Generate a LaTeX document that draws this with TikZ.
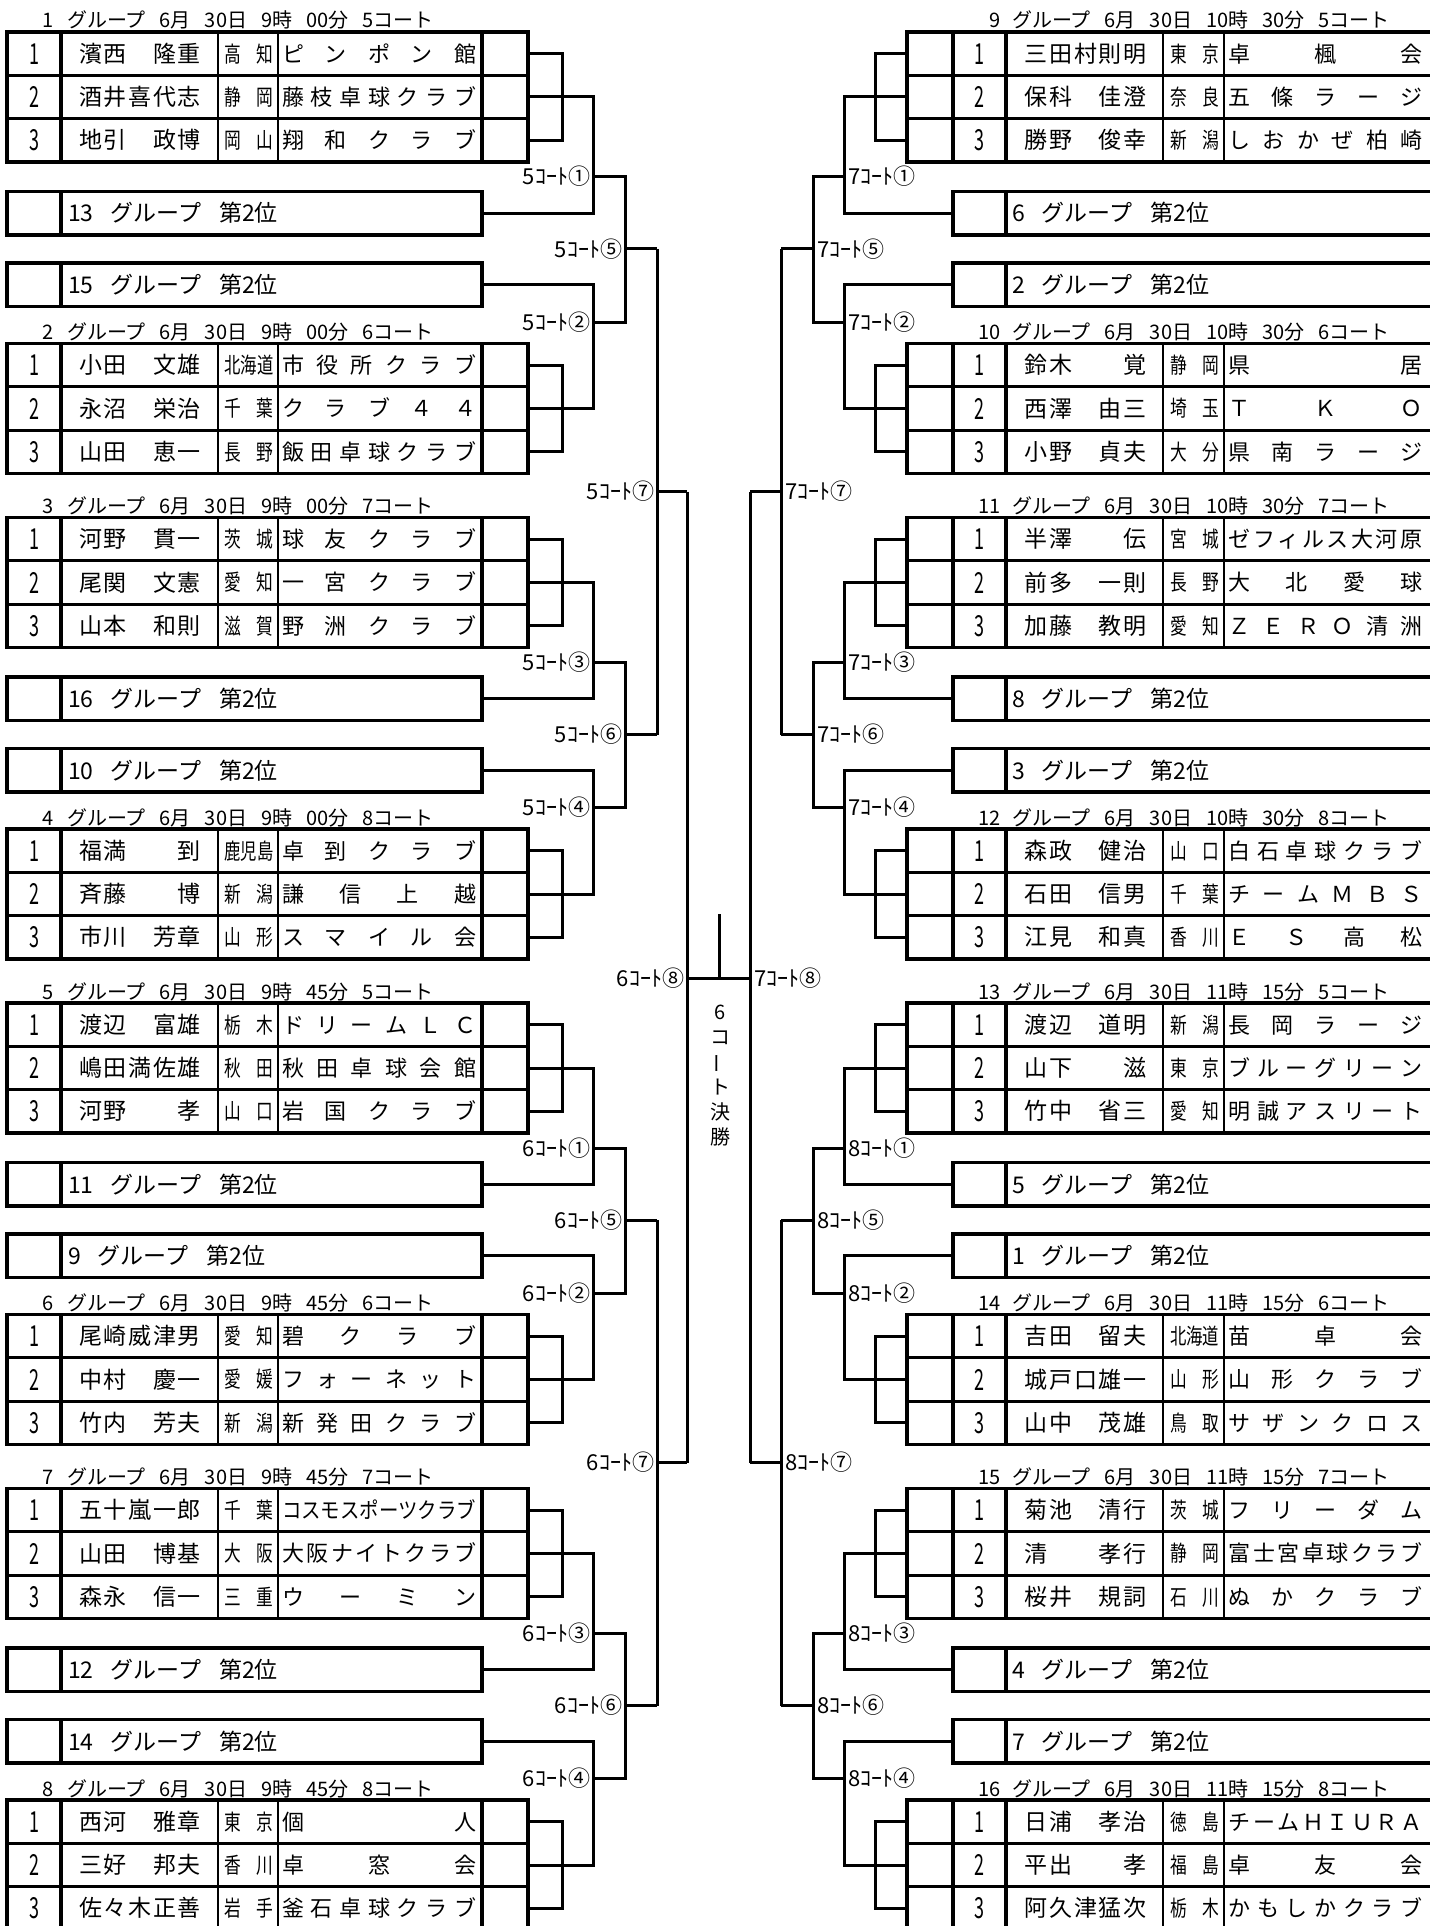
\documentclass[tikz,border=0pt]{standalone}
\usepackage{fontspec}
\usepackage{graphicx}
\newfontfamily\jp{Noto Sans CJK JP}
\newfontfamily\jpc[FakeStretch=0.62]{Noto Sans CJK JP}
\newfontfamily\jpp[FakeStretch=0.76]{Noto Sans CJK JP}
\newcommand\fz[1]{\fontsize{#1}{#1}\selectfont}
\makeatletter
\newsavebox\spr@box
\def\spr@loop#1{\ifx#1\relax\else\hfill#1\expandafter\spr@loop\fi}
\def\spr@first#1{#1\spr@loop}
\newcommand\spr[2]{\sbox\spr@box{\spr@first#2\relax}%
 \ifdim\wd\spr@box>#1\relax\resizebox{#1}{\height}{\usebox\spr@box}%
 \else\makebox[#1][s]{\spr@first#2\relax}\fi}
\makeatother
\newcommand\hd{\hspace{7pt}}
\tikzset{
 thk/.style={line width=1.6pt},
 thn/.style={line width=0.55pt},
 brk/.style={line width=1.5pt},
 tx/.style={inner sep=0pt,outer sep=0pt,anchor=base},
 numt/.style={tx,font=\jpc\fz{14.5pt}},
 namet/.style={tx,font=\jp\fz{11.5pt}},
 preft/.style={tx,font=\jpp\fz{11pt}},
 clubt/.style={tx,font=\jp\fz{11pt}},
 headt/.style={tx,font=\jp\fz{10pt}},
 labt/.style={tx,font=\jp\fz{11pt}},
 boxt/.style={tx,anchor=base west,font=\jp\fz{11.5pt}},
 midt/.style={tx,font=\jp\fz{10pt}},
}
\newcommand\setL{\def\xNum{34}\def\xName{140}\def\xPref{249}\def\xClub{379}}
\newcommand\setR{\def\xNum{979.5}\def\xName{1085.5}\def\xPref{1194.5}\def\xClub{1325.5}}
\newcommand\Row[7]{%
 \node[numt] (#1n) at (\xNum,{#2+21.67+43.33*#3+10.5}) {#4};
 \node[namet] (#1a) at (\xName,{#2+21.67+43.33*#3+8.6}) {\spr{61pt}{#5}};
 \node[preft] (#1p) at (\xPref,{#2+21.67+43.33*#3+8.4}) {\spr{24.5pt}{#6}};
 \node[clubt] (#1c) at (\xClub,{#2+21.67+43.33*#3+8.4}) {\spr{97pt}{#7}};
}
\newcommand\TabL[1]{%
 \draw[thk] (7,#1) rectangle (528,#1+130);
 \draw[thk] (7,#1+43.33) -- (528,#1+43.33) (7,#1+86.67) -- (528,#1+86.67) (61,#1) -- (61,#1+130) (482,#1) -- (482,#1+130);
 \draw[thn] (218,#1) -- (218,#1+130) (278,#1) -- (278,#1+130);}
\newcommand\TabR[1]{%
 \draw[thk] (907,#1) rectangle (1432,#1+130);
 \draw[thk] (907,#1+43.33) -- (1432,#1+43.33) (907,#1+86.67) -- (1432,#1+86.67) (953,#1) -- (953,#1+130) (1006,#1) -- (1006,#1+130);
 \draw[thn] (1163,#1) -- (1163,#1+130) (1224,#1) -- (1224,#1+130);}
\newcommand\HeadL[6]{%
 \node[headt,anchor=base east] (#1g) at (54,#2-4) {#3};
 \node[headt,anchor=base west] (#1h) at (67,#2-4) {グループ\hd 6月\hd 30日\hd #4時\hd #5分\hd #6コート};}
\newcommand\HeadR[6]{%
 \node[headt,anchor=base east] (#1g) at (1001,#2-4) {#3};
 \node[headt,anchor=base west] (#1h) at (1012,#2-4) {グループ\hd 6月\hd 30日\hd #4時\hd #5分\hd #6コート};}
\newcommand\BoxL[3]{%
 \draw[thk] (7,#2) rectangle (482,#2+43.5) (61,#2) -- (61,#2+43.5);
 \node[boxt] (#1) at (68,#2+30.5) {#3\hspace{8.5pt}グループ\hspace{9pt}第2位};}
\newcommand\BoxR[3]{%
 \draw[thk] (953,#2) rectangle (1432,#2+43.5) (1006,#2) -- (1006,#2+43.5);
 \node[boxt] (#1) at (1012,#2+30.5) {#3\hspace{8.5pt}グループ\hspace{9pt}第2位};}
\newcommand\BlkL[6]{%
 \draw[brk] (528,#2+21.67) -- (562,#2+21.67) -- (562,#2+108.33) -- (528,#2+108.33);
 \draw[brk] (528,#2+65) -- (593,#2+65) -- (593,#2+181.25) -- (482,#2+181.25);
 \draw[brk] (482,#2+252.75) -- (593,#2+252.75) -- (593,#2+376.5) -- (528,#2+376.5);
 \draw[brk] (528,#2+333.17) -- (562,#2+333.17) -- (562,#2+419.83) -- (528,#2+419.83);
 \draw[brk] (593,#2+145) -- (625,#2+145) -- (625,#2+290) -- (593,#2+290);
 \draw[brk] (625,#2+217) -- (657,#2+217);
 \node[labt,anchor=base east] (#1a) at (590,#2+153) {#3ｺｰﾄ#4};
 \node[labt,anchor=base east] (#1b) at (590,#2+298) {#3ｺｰﾄ#5};
 \node[labt,anchor=base east] (#1c) at (622,#2+225) {#3ｺｰﾄ#6};}
\newcommand\BlkR[6]{%
 \draw[brk] (907,#2+21.67) -- (875,#2+21.67) -- (875,#2+108.33) -- (907,#2+108.33);
 \draw[brk] (907,#2+65) -- (844,#2+65) -- (844,#2+181.25) -- (953,#2+181.25);
 \draw[brk] (953,#2+252.75) -- (844,#2+252.75) -- (844,#2+376.5) -- (907,#2+376.5);
 \draw[brk] (907,#2+333.17) -- (875,#2+333.17) -- (875,#2+419.83) -- (907,#2+419.83);
 \draw[brk] (844,#2+145) -- (813,#2+145) -- (813,#2+290) -- (844,#2+290);
 \draw[brk] (813,#2+217) -- (781,#2+217);
 \node[labt,anchor=base west] (#1a) at (848,#2+153) {#3ｺｰﾄ#4};
 \node[labt,anchor=base west] (#1b) at (848,#2+298) {#3ｺｰﾄ#5};
 \node[labt,anchor=base west] (#1c) at (817,#2+225) {#3ｺｰﾄ#6};}
\newcommand\HalfL[3]{%
 \draw[brk] (657,#2+217) -- (657,#2+702.5) (657,#2+459.75) -- (687,#2+459.75);
 \node[labt,anchor=base east] (#1) at (654,#2+467.75) {#3ｺｰﾄ⑦};}
\newcommand\HalfR[3]{%
 \draw[brk] (781,#2+217) -- (781,#2+702.5) (781,#2+459.75) -- (750,#2+459.75);
 \node[labt,anchor=base west] (#1) at (785,#2+467.75) {#3ｺｰﾄ⑦};}
\begin{document}
\begin{tikzpicture}[x=0.5pt,y=-0.5pt]
\useasboundingbox (0,0) rectangle (1429,1926);
\fill[white] (0,0) rectangle (1429,1926);
% ================= LEFT =================
\setL
\TabL{32}\HeadL{h1}{32}{1}{9}{00}{5}
\Row{g1a}{32}{0}{1}{濱西　隆重}{高知}{ピンポン館}
\Row{g1b}{32}{1}{2}{酒井喜代志}{静岡}{藤枝卓球クラブ}
\Row{g1c}{32}{2}{3}{地引　政博}{岡山}{翔和クラブ}
\BoxL{b13}{191.5}{13}
\BoxL{b15}{263}{15}
\TabL{343.5}\HeadL{h2}{343.5}{2}{9}{00}{6}
\Row{g2a}{343.5}{0}{1}{小田　文雄}{北海道}{市役所クラブ}
\Row{g2b}{343.5}{1}{2}{永沼　栄治}{千葉}{クラブ４４}
\Row{g2c}{343.5}{2}{3}{山田　恵一}{長野}{飯田卓球クラブ}
\TabL{517.5}\HeadL{h3}{517.5}{3}{9}{00}{7}
\Row{g3a}{517.5}{0}{1}{河野　貫一}{茨城}{球友クラブ}
\Row{g3b}{517.5}{1}{2}{尾関　文憲}{愛知}{一宮クラブ}
\Row{g3c}{517.5}{2}{3}{山本　和則}{滋賀}{野洲クラブ}
\BoxL{b16}{677}{16}
\BoxL{b10}{748.5}{10}
\TabL{829}\HeadL{h4}{829}{4}{9}{00}{8}
\Row{g4a}{829}{0}{1}{福満　　到}{鹿児島}{卓到クラブ}
\Row{g4b}{829}{1}{2}{斉藤　　博}{新潟}{謙信上越}
\Row{g4c}{829}{2}{3}{市川　芳章}{山形}{スマイル会}
\TabL{1003}\HeadL{h5}{1003}{5}{9}{45}{5}
\Row{g5a}{1003}{0}{1}{渡辺　富雄}{栃木}{ドリームＬＣ}
\Row{g5b}{1003}{1}{2}{嶋田満佐雄}{秋田}{秋田卓球会館}
\Row{g5c}{1003}{2}{3}{河野　　孝}{山口}{岩国クラブ}
\BoxL{b11}{1162.5}{11}
\BoxL{b9}{1234}{9}
\TabL{1314.5}\HeadL{h6}{1314.5}{6}{9}{45}{6}
\Row{g6a}{1314.5}{0}{1}{尾崎威津男}{愛知}{碧クラブ}
\Row{g6b}{1314.5}{1}{2}{中村　慶一}{愛媛}{フォーネット}
\Row{g6c}{1314.5}{2}{3}{竹内　芳夫}{新潟}{新発田クラブ}
\TabL{1488.5}\HeadL{h7}{1488.5}{7}{9}{45}{7}
\Row{g7a}{1488.5}{0}{1}{五十嵐一郎}{千葉}{コスモスポーツクラブ}
\Row{g7b}{1488.5}{1}{2}{山田　博基}{大阪}{大阪ナイトクラブ}
\Row{g7c}{1488.5}{2}{3}{森永　信一}{三重}{ウーミン}
\BoxL{b12}{1648}{12}
\BoxL{b14}{1719.5}{14}
\TabL{1800}\HeadL{h8}{1800}{8}{9}{45}{8}
\Row{g8a}{1800}{0}{1}{西河　雅章}{東京}{個人}
\Row{g8b}{1800}{1}{2}{三好　邦夫}{香川}{卓窓会}
\Row{g8c}{1800}{2}{3}{佐々木正善}{岩手}{釜石卓球クラブ}
\BlkL{l1}{32}{5}{①}{②}{⑤}
\BlkL{l2}{517.5}{5}{③}{④}{⑥}
\BlkL{l3}{1003}{6}{①}{②}{⑤}
\BlkL{l4}{1488.5}{6}{③}{④}{⑥}
\HalfL{l7a}{32}{5}
\HalfL{l7b}{1003}{6}
% ================= RIGHT =================
\setR
\TabR{32}\HeadR{h9}{32}{9}{10}{30}{5}
\Row{g9a}{32}{0}{1}{三田村則明}{東京}{卓楓会}
\Row{g9b}{32}{1}{2}{保科　佳澄}{奈良}{五條ラージ}
\Row{g9c}{32}{2}{3}{勝野　俊幸}{新潟}{しおかぜ柏崎}
\BoxR{b6}{191.5}{6}
\BoxR{b2}{263}{2}
\TabR{343.5}\HeadR{h10}{343.5}{10}{10}{30}{6}
\Row{g10a}{343.5}{0}{1}{鈴木　　覚}{静岡}{県居}
\Row{g10b}{343.5}{1}{2}{西澤　由三}{埼玉}{ＴＫＯ}
\Row{g10c}{343.5}{2}{3}{小野　貞夫}{大分}{県南ラージ}
\TabR{517.5}\HeadR{h11}{517.5}{11}{10}{30}{7}
\Row{g11a}{517.5}{0}{1}{半澤　　伝}{宮城}{ゼフィルス大河原}
\Row{g11b}{517.5}{1}{2}{前多　一則}{長野}{大北愛球}
\Row{g11c}{517.5}{2}{3}{加藤　教明}{愛知}{ＺＥＲＯ清洲}
\BoxR{b8}{677}{8}
\BoxR{b3}{748.5}{3}
\TabR{829}\HeadR{h12}{829}{12}{10}{30}{8}
\Row{g12a}{829}{0}{1}{森政　健治}{山口}{白石卓球クラブ}
\Row{g12b}{829}{1}{2}{石田　信男}{千葉}{チームＭＢＳ}
\Row{g12c}{829}{2}{3}{江見　和真}{香川}{ＥＳ高松}
\TabR{1003}\HeadR{h13}{1003}{13}{11}{15}{5}
\Row{g13a}{1003}{0}{1}{渡辺　道明}{新潟}{長岡ラージ}
\Row{g13b}{1003}{1}{2}{山下　　滋}{東京}{ブルーグリーン}
\Row{g13c}{1003}{2}{3}{竹中　省三}{愛知}{明誠アスリート}
\BoxR{b5}{1162.5}{5}
\BoxR{b1}{1234}{1}
\TabR{1314.5}\HeadR{h14}{1314.5}{14}{11}{15}{6}
\Row{g14a}{1314.5}{0}{1}{吉田　留夫}{北海道}{苗卓会}
\Row{g14b}{1314.5}{1}{2}{城戸口雄一}{山形}{山形クラブ}
\Row{g14c}{1314.5}{2}{3}{山中　茂雄}{鳥取}{サザンクロス}
\TabR{1488.5}\HeadR{h15}{1488.5}{15}{11}{15}{7}
\Row{g15a}{1488.5}{0}{1}{菊池　清行}{茨城}{フリーダム}
\Row{g15b}{1488.5}{1}{2}{清　　孝行}{静岡}{富士宮卓球クラブ}
\Row{g15c}{1488.5}{2}{3}{桜井　規詞}{石川}{ぬかクラブ}
\BoxR{b4}{1648}{4}
\BoxR{b7}{1719.5}{7}
\TabR{1800}\HeadR{h16}{1800}{16}{11}{15}{8}
\Row{g16a}{1800}{0}{1}{日浦　孝治}{徳島}{チームＨＩＵＲＡ}
\Row{g16b}{1800}{1}{2}{平出　　孝}{福島}{卓友会}
\Row{g16c}{1800}{2}{3}{阿久津猛次}{栃木}{かもしかクラブ}
\BlkR{r1}{32}{7}{①}{②}{⑤}
\BlkR{r2}{517.5}{7}{③}{④}{⑥}
\BlkR{r3}{1003}{8}{①}{②}{⑤}
\BlkR{r4}{1488.5}{8}{③}{④}{⑥}
\HalfR{r7a}{32}{7}
\HalfR{r7b}{1003}{8}
% ================= FINAL =================
\coordinate (fl) at (687,978);
\coordinate (fr) at (750,978);
\coordinate (ft) at (719,914);
\draw[brk] (687,491.75) -- (687,1462.75) (750,491.75) -- (750,1462.75);
\draw[brk] (fl) -- (fr);
\draw[brk] (ft) -- (ft |- fl);
\node[labt,anchor=base east] (f6) at (684,986) {6ｺｰﾄ⑧};
\node[labt,anchor=base west] (f7) at (754,986) {7ｺｰﾄ⑧};
\node[midt] (m1) at (720,1019.3) {6};
\node[midt] (m2) at (720,1044.6) {コ};
\node[midt,anchor=center] (m3) at (720,1063) {\rotatebox{90}{ー}};
\node[midt] (m4) at (720,1094.6) {ト};
\node[midt] (m5) at (720,1119.6) {決};
\node[midt] (m6) at (720,1144.6) {勝};
\end{tikzpicture}
\end{document}
